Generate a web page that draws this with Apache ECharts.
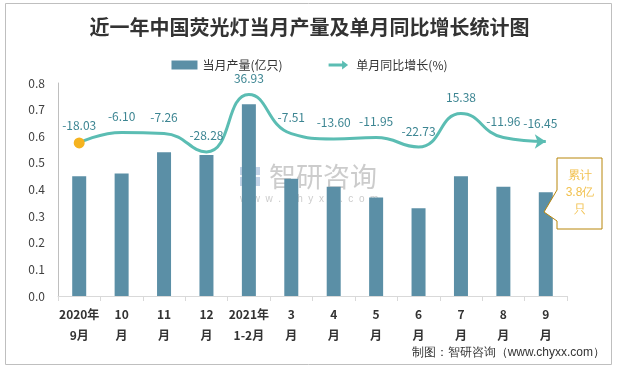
<!DOCTYPE html>
<html><head><meta charset="utf-8">
<script src="https://cdn.jsdelivr.net/npm/echarts@6/dist/echarts.min.js"></script>
<style>html,body{margin:0;padding:0;background:#fff}#c{width:619px;height:368px}</style>
</head><body><div id="c"></div>
<script>
var categories = ['2020年\n9月','10\n月','11\n月','12\n月','2021年\n1-2月','3\n月','4\n月','5\n月','6\n月','7\n月','8\n月','9\n月'];
var output = [0.45,0.46,0.54,0.53,0.72,0.44,0.41,0.37,0.33,0.45,0.41,0.39];
var growth = [-18.03,-6.10,-7.26,-28.28,36.93,-7.51,-13.60,-11.95,-22.73,15.38,-11.96,-16.45];
var yTicks = [0,0.1,0.2,0.3,0.4,0.5,0.6,0.7,0.8];

var lineData = growth.map(function(v,i){
  if(i===0) return {value:v, symbol:'circle', symbolSize:11, itemStyle:{color:'#F5B320'}, label:{distance:6}};
  if(i===growth.length-1) return {value:v, symbol:'arrow', symbolRotate:-90, symbolSize:[11,11], itemStyle:{color:'#5BBDB3'}, label:{distance:5}};
  return {value:v};
});

var chart = echarts.init(document.getElementById('c'));
chart.setOption({
  animation:false,
  textStyle:{fontFamily:'"Noto Sans CJK SC", "Noto Sans", sans-serif'},
  title:{text:'近一年中国荧光灯当月产量及单月同比增长统计图', left:'center', top:12,
    textStyle:{fontSize:20, fontWeight:'bold', color:'#333', fontFamily:'"Noto Sans CJK SC", serif'}},
  legend:{top:54, left:'center', itemGap:46, itemWidth:26, itemHeight:9,
    textStyle:{fontSize:12, color:'#333'},
    data:[{name:'当月产量(亿只)', icon:'rect'},
          {name:'单月同比增长(%)', icon:'path://M0,4 L18,4 L18,0 L26,6 L18,12 L18,8 L0,8 Z'}]},
  grid:{left:58, right:52, top:83, bottom:72},
  xAxis:{type:'category', data:categories, boundaryGap:true,
    axisLine:{lineStyle:{color:'#d9d9d9'}},
    axisTick:{show:true, length:5, lineStyle:{color:'#d9d9d9'}},
    axisLabel:{interval:0, fontSize:12, fontWeight:'bold', color:'#333', lineHeight:21, margin:8}},
  yAxis:[{type:'value', min:0, max:0.8, interval:0.1,
    axisLine:{show:true, lineStyle:{color:'#bfbfbf'}}, axisTick:{show:false},
    splitLine:{show:false},
    axisLabel:{fontSize:12, color:'#404040', margin:13, formatter:function(v){return v.toFixed(1);}}},
    {type:'value', min:-192, max:50, show:false, splitLine:{show:false}}],
  series:[
    {name:'当月产量(亿只)', type:'bar', data:output, barWidth:14, itemStyle:{color:'#5B8FA6'}, z:2},
    {name:'单月同比增长(%)', type:'line', yAxisIndex:1, data:lineData, smooth:0.5,
      symbol:'circle', symbolSize:0.1, showSymbol:true, lineStyle:{color:'#5BBDB3', width:3}, itemStyle:{color:'#5BBDB3'},
      label:{show:true, position:'top', distance:10, fontSize:12, color:'#3C8592',
        formatter:function(p){return p.value.toFixed(2);}}, z:3}
  ],
  graphic:[
    {type:'rect', shape:{x:5.5,y:3.5,width:606,height:361}, style:{fill:'none', stroke:'#bfbfbf', lineWidth:1}, silent:true},
    {type:'group', left:240, top:163, z:10, children:[
      {type:'rect', shape:{x:0,y:2,width:20,height:8}, style:{fill:'#9db7d8', opacity:0.6}},
      {type:'rect', shape:{x:0,y:12,width:10,height:9}, style:{fill:'#9db7d8', opacity:0.6}},
      {type:'rect', shape:{x:12,y:12,width:8,height:9}, style:{fill:'#9db7d8', opacity:0.6}},
      {type:'text', x:29, y:-2, style:{text:'智研咨询', fontSize:27, fill:'#aaaaaa', opacity:0.6, fontFamily:'"Noto Sans CJK SC"'}},
      {type:'text', x:0, y:29, style:{text:'w  w  w  .  c  h  y  x  x  .  c  o  m', fontSize:10, fill:'#aaaaaa', opacity:0.6}}
    ]},
    {type:'polygon', shape:{points:[[557,158],[602,158],[602,229],[557,229],[557,221],[544,212],[557,190]]},
      style:{fill:'#fff', stroke:'#B8860B', lineWidth:1}, z:20},
    {type:'text', x:580, y:193, z:21, style:{text:'累计\n3.8亿\n只', fontSize:12, fill:'#F2C14E', align:'center', verticalAlign:'middle', lineHeight:17}},
    {type:'text', right:14, top:347, style:{text:'制图：智研咨询（www.chyxx.com）', fontSize:12, fill:'#333'}}
  ]
});
</script></body></html>
